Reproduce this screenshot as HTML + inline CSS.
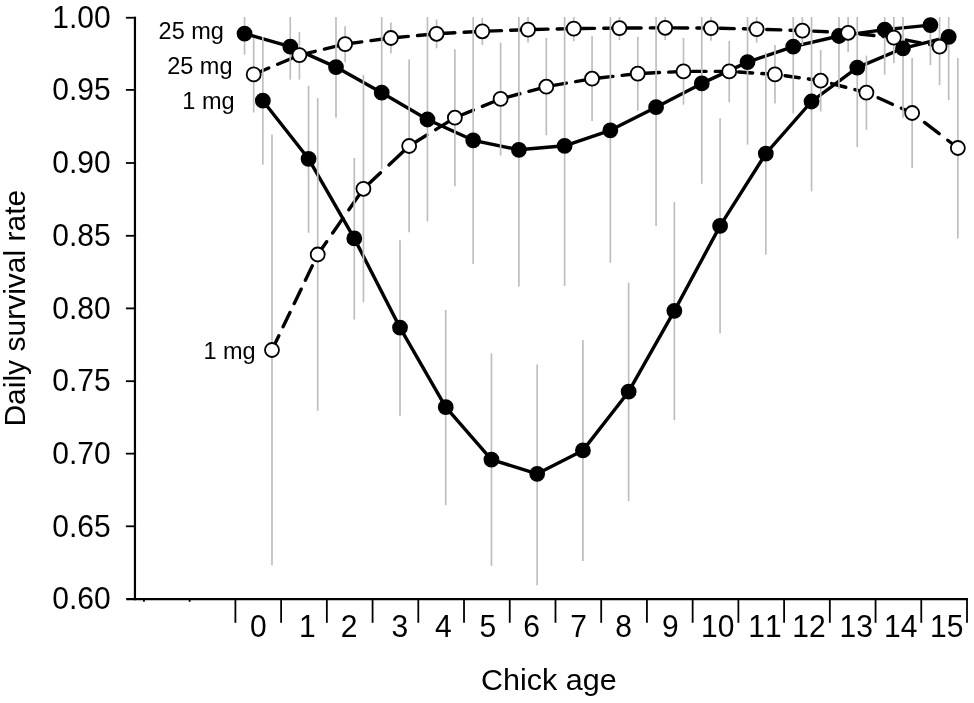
<!DOCTYPE html>
<html><head><meta charset="utf-8"><title>Daily survival rate by chick age</title>
<style>html,body{margin:0;padding:0;background:#fff}svg{display:block}text{font-family:"Liberation Sans",sans-serif;fill:#000;font-kerning:none}</style></head>
<body>
<svg width="974" height="703" viewBox="0 0 974 703">
<rect width="974" height="703" fill="#fff"/>
<g stroke="#000" stroke-width="3.40" fill="none" stroke-linecap="butt">
<polyline stroke-linejoin="round" points="244.55,33.60 290.27,46.60 336.00,67.10 381.72,92.70 427.45,119.50 473.17,140.30 518.89,149.80 564.62,145.80 610.35,130.30 656.07,107.20 701.79,83.40 747.52,62.10 793.25,46.60 838.97,36.00 884.69,29.60 930.42,25.10"/>
<line stroke-linecap="round" x1="253.69" y1="74.40" x2="299.42" y2="55.10" stroke-dasharray="15.55 9.72" stroke-dashoffset="-0.80"/>
<line stroke-linecap="round" x1="299.42" y1="55.10" x2="345.14" y2="44.10" stroke-dasharray="14.59 9.36" stroke-dashoffset="22.25"/>
<line stroke-linecap="round" x1="345.14" y1="44.10" x2="390.87" y2="38.00" stroke-dasharray="14.25 9.24" stroke-dashoffset="20.96"/>
<line stroke-linecap="round" x1="390.87" y1="38.00" x2="436.59" y2="33.80" stroke-dasharray="14.17 9.21" stroke-dashoffset="20.01"/>
<line stroke-linecap="round" x1="436.59" y1="33.80" x2="482.32" y2="31.30" stroke-dasharray="14.13 9.19" stroke-dashoffset="19.12"/>
<line stroke-linecap="round" x1="482.32" y1="31.30" x2="528.04" y2="29.60" stroke-dasharray="14.11 9.18" stroke-dashoffset="18.27"/>
<line stroke-linecap="round" x1="528.04" y1="29.60" x2="573.76" y2="28.60" stroke-dasharray="14.10 9.18" stroke-dashoffset="17.42"/>
<line stroke-linecap="round" x1="573.76" y1="28.60" x2="619.49" y2="28.10" stroke-dasharray="14.10 9.18" stroke-dashoffset="16.59"/>
<line stroke-linecap="round" x1="619.49" y1="28.10" x2="665.22" y2="27.80" stroke-dasharray="14.10 9.18" stroke-dashoffset="15.75"/>
<line stroke-linecap="round" x1="665.22" y1="27.80" x2="710.94" y2="28.10" stroke-dasharray="14.10 9.18" stroke-dashoffset="14.92"/>
<line stroke-linecap="round" x1="710.94" y1="28.10" x2="756.66" y2="29.10" stroke-dasharray="14.10 9.18" stroke-dashoffset="14.08"/>
<line stroke-linecap="round" x1="756.66" y1="29.10" x2="802.39" y2="30.60" stroke-dasharray="14.11 9.18" stroke-dashoffset="13.25"/>
<line stroke-linecap="round" x1="802.39" y1="30.60" x2="848.12" y2="32.80" stroke-dasharray="14.12 9.19" stroke-dashoffset="12.43"/>
<line stroke-linecap="round" x1="848.12" y1="32.80" x2="893.84" y2="37.60" stroke-dasharray="14.19 9.21" stroke-dashoffset="11.65"/>
<line stroke-linecap="round" x1="893.84" y1="37.60" x2="939.57" y2="46.60" stroke-dasharray="14.43 9.30" stroke-dashoffset="10.97"/>
<polyline stroke-linejoin="round" points="262.83,100.70 308.56,158.80 354.29,238.40 400.01,327.60 445.74,407.20 491.46,459.60 537.18,473.80 582.91,450.40 628.63,391.70 674.36,310.80 720.09,225.90 765.81,153.60 811.53,101.50 857.26,67.60 902.99,48.30 948.71,36.80"/>
<line stroke-linecap="round" x1="271.98" y1="350.00" x2="317.71" y2="254.50" stroke-dasharray="15.95 9.86" stroke-dashoffset="0.10"/>
<line stroke-linecap="round" x1="317.71" y1="254.50" x2="363.43" y2="188.80" stroke-dasharray="17.81 10.55" stroke-dashoffset="2.18"/>
<line stroke-linecap="round" x1="363.43" y1="188.80" x2="409.15" y2="146.00" stroke-dasharray="20.39 11.50" stroke-dashoffset="28.85"/>
<line stroke-linecap="round" x1="409.15" y1="146.00" x2="454.88" y2="117.70" stroke-dasharray="17.09 10.29" stroke-dashoffset="23.58"/>
<line stroke-linecap="round" x1="454.88" y1="117.70" x2="500.61" y2="98.90" stroke-dasharray="15.48 9.69" stroke-dashoffset="20.66"/>
<line stroke-linecap="round" x1="500.61" y1="98.90" x2="546.33" y2="86.70" stroke-dasharray="14.69 9.40" stroke-dashoffset="18.85"/>
<line stroke-linecap="round" x1="546.33" y1="86.70" x2="592.06" y2="78.70" stroke-dasharray="14.36 9.28" stroke-dashoffset="17.62"/>
<line stroke-linecap="round" x1="592.06" y1="78.70" x2="637.78" y2="73.60" stroke-dasharray="14.21 9.22" stroke-dashoffset="16.61"/>
<line stroke-linecap="round" x1="637.78" y1="73.60" x2="683.50" y2="71.40" stroke-dasharray="14.12 9.19" stroke-dashoffset="15.68"/>
<line stroke-linecap="round" x1="683.50" y1="71.40" x2="729.23" y2="71.40" stroke-dasharray="14.10 9.18" stroke-dashoffset="14.82"/>
<line stroke-linecap="round" x1="729.23" y1="71.40" x2="774.96" y2="74.40" stroke-dasharray="14.14 9.19" stroke-dashoffset="14.02"/>
<line stroke-linecap="round" x1="774.96" y1="74.40" x2="820.68" y2="80.70" stroke-dasharray="14.26 9.24" stroke-dashoffset="13.29"/>
<line stroke-linecap="round" x1="820.68" y1="80.70" x2="866.40" y2="92.60" stroke-dasharray="14.67 9.39" stroke-dashoffset="12.78"/>
<line stroke-linecap="round" x1="866.40" y1="92.60" x2="912.13" y2="113.00" stroke-dasharray="15.72 9.78" stroke-dashoffset="12.71"/>
<line stroke-linecap="round" x1="912.13" y1="113.00" x2="957.86" y2="148.00" stroke-dasharray="18.51 10.81" stroke-dashoffset="13.79"/>
</g>
<g stroke="#bebebe" stroke-width="1.7">
<line x1="244.55" y1="17.00" x2="244.55" y2="54.60"/>
<line x1="290.27" y1="17.00" x2="290.27" y2="79.70"/>
<line x1="336.00" y1="17.00" x2="336.00" y2="117.70"/>
<line x1="381.72" y1="17.00" x2="381.72" y2="168.80"/>
<line x1="427.45" y1="17.00" x2="427.45" y2="221.40"/>
<line x1="473.17" y1="17.00" x2="473.17" y2="264.00"/>
<line x1="518.89" y1="17.00" x2="518.89" y2="286.50"/>
<line x1="564.62" y1="17.00" x2="564.62" y2="286.00"/>
<line x1="610.35" y1="17.00" x2="610.35" y2="262.70"/>
<line x1="656.07" y1="17.00" x2="656.07" y2="225.90"/>
<line x1="701.79" y1="17.00" x2="701.79" y2="183.80"/>
<line x1="747.52" y1="17.00" x2="747.52" y2="144.60"/>
<line x1="793.25" y1="17.00" x2="793.25" y2="113.50"/>
<line x1="838.97" y1="17.00" x2="838.97" y2="88.90"/>
<line x1="884.69" y1="17.00" x2="884.69" y2="74.60"/>
<line x1="930.42" y1="17.00" x2="930.42" y2="65.10"/>
<line x1="253.69" y1="38.00" x2="253.69" y2="112.50"/>
<line x1="299.42" y1="32.00" x2="299.42" y2="79.70"/>
<line x1="345.14" y1="26.30" x2="345.14" y2="62.00"/>
<line x1="390.87" y1="22.50" x2="390.87" y2="53.50"/>
<line x1="436.59" y1="19.50" x2="436.59" y2="48.30"/>
<line x1="482.32" y1="18.00" x2="482.32" y2="45.00"/>
<line x1="528.04" y1="17.00" x2="528.04" y2="42.60"/>
<line x1="573.76" y1="17.00" x2="573.76" y2="41.30"/>
<line x1="619.49" y1="17.00" x2="619.49" y2="40.00"/>
<line x1="665.22" y1="17.00" x2="665.22" y2="40.00"/>
<line x1="710.94" y1="17.00" x2="710.94" y2="40.80"/>
<line x1="756.66" y1="17.00" x2="756.66" y2="42.60"/>
<line x1="802.39" y1="17.00" x2="802.39" y2="45.00"/>
<line x1="848.12" y1="17.00" x2="848.12" y2="51.90"/>
<line x1="893.84" y1="17.00" x2="893.84" y2="63.10"/>
<line x1="939.57" y1="17.00" x2="939.57" y2="85.20"/>
<line x1="262.83" y1="37.00" x2="262.83" y2="164.60"/>
<line x1="308.56" y1="85.70" x2="308.56" y2="232.70"/>
<line x1="354.29" y1="158.00" x2="354.29" y2="319.60"/>
<line x1="400.01" y1="240.20" x2="400.01" y2="415.70"/>
<line x1="445.74" y1="310.00" x2="445.74" y2="505.10"/>
<line x1="491.46" y1="353.40" x2="491.46" y2="565.70"/>
<line x1="537.18" y1="364.40" x2="537.18" y2="585.30"/>
<line x1="582.91" y1="340.10" x2="582.91" y2="561.00"/>
<line x1="628.63" y1="282.80" x2="628.63" y2="501.00"/>
<line x1="674.36" y1="201.90" x2="674.36" y2="420.20"/>
<line x1="720.09" y1="118.20" x2="720.09" y2="333.30"/>
<line x1="765.81" y1="52.60" x2="765.81" y2="254.60"/>
<line x1="811.53" y1="17.00" x2="811.53" y2="191.40"/>
<line x1="857.26" y1="17.00" x2="857.26" y2="147.00"/>
<line x1="902.99" y1="17.00" x2="902.99" y2="117.70"/>
<line x1="948.71" y1="17.00" x2="948.71" y2="100.20"/>
<line x1="271.98" y1="134.50" x2="271.98" y2="565.20"/>
<line x1="317.71" y1="98.20" x2="317.71" y2="410.70"/>
<line x1="363.43" y1="75.00" x2="363.43" y2="302.40"/>
<line x1="409.15" y1="59.40" x2="409.15" y2="232.20"/>
<line x1="454.88" y1="49.30" x2="454.88" y2="186.30"/>
<line x1="500.61" y1="42.60" x2="500.61" y2="155.60"/>
<line x1="546.33" y1="38.00" x2="546.33" y2="135.30"/>
<line x1="592.06" y1="36.30" x2="592.06" y2="121.00"/>
<line x1="637.78" y1="36.80" x2="637.78" y2="110.70"/>
<line x1="683.50" y1="38.00" x2="683.50" y2="104.70"/>
<line x1="729.23" y1="40.80" x2="729.23" y2="102.20"/>
<line x1="774.96" y1="45.00" x2="774.96" y2="103.50"/>
<line x1="820.68" y1="50.00" x2="820.68" y2="111.50"/>
<line x1="866.40" y1="55.60" x2="866.40" y2="129.80"/>
<line x1="912.13" y1="58.10" x2="912.13" y2="168.00"/>
<line x1="957.86" y1="58.10" x2="957.86" y2="238.50"/>
</g>
<g fill="#000" stroke="#000" stroke-width="1.8">
<circle cx="244.55" cy="33.60" r="7.00"/>
<circle cx="290.27" cy="46.60" r="7.00"/>
<circle cx="336.00" cy="67.10" r="7.00"/>
<circle cx="381.72" cy="92.70" r="7.00"/>
<circle cx="427.45" cy="119.50" r="7.00"/>
<circle cx="473.17" cy="140.30" r="7.00"/>
<circle cx="518.89" cy="149.80" r="7.00"/>
<circle cx="564.62" cy="145.80" r="7.00"/>
<circle cx="610.35" cy="130.30" r="7.00"/>
<circle cx="656.07" cy="107.20" r="7.00"/>
<circle cx="701.79" cy="83.40" r="7.00"/>
<circle cx="747.52" cy="62.10" r="7.00"/>
<circle cx="793.25" cy="46.60" r="7.00"/>
<circle cx="838.97" cy="36.00" r="7.00"/>
<circle cx="884.69" cy="29.60" r="7.00"/>
<circle cx="930.42" cy="25.10" r="7.00"/>
</g>
<g fill="#000" stroke="#000" stroke-width="1.8">
<circle cx="262.83" cy="100.70" r="7.00"/>
<circle cx="308.56" cy="158.80" r="7.00"/>
<circle cx="354.29" cy="238.40" r="7.00"/>
<circle cx="400.01" cy="327.60" r="7.00"/>
<circle cx="445.74" cy="407.20" r="7.00"/>
<circle cx="491.46" cy="459.60" r="7.00"/>
<circle cx="537.18" cy="473.80" r="7.00"/>
<circle cx="582.91" cy="450.40" r="7.00"/>
<circle cx="628.63" cy="391.70" r="7.00"/>
<circle cx="674.36" cy="310.80" r="7.00"/>
<circle cx="720.09" cy="225.90" r="7.00"/>
<circle cx="765.81" cy="153.60" r="7.00"/>
<circle cx="811.53" cy="101.50" r="7.00"/>
<circle cx="857.26" cy="67.60" r="7.00"/>
<circle cx="902.99" cy="48.30" r="7.00"/>
<circle cx="948.71" cy="36.80" r="7.00"/>
</g>
<g fill="#fff" stroke="#000" stroke-width="1.8">
<circle cx="253.69" cy="74.40" r="7.00"/>
<circle cx="299.42" cy="55.10" r="7.00"/>
<circle cx="345.14" cy="44.10" r="7.00"/>
<circle cx="390.87" cy="38.00" r="7.00"/>
<circle cx="436.59" cy="33.80" r="7.00"/>
<circle cx="482.32" cy="31.30" r="7.00"/>
<circle cx="528.04" cy="29.60" r="7.00"/>
<circle cx="573.76" cy="28.60" r="7.00"/>
<circle cx="619.49" cy="28.10" r="7.00"/>
<circle cx="665.22" cy="27.80" r="7.00"/>
<circle cx="710.94" cy="28.10" r="7.00"/>
<circle cx="756.66" cy="29.10" r="7.00"/>
<circle cx="802.39" cy="30.60" r="7.00"/>
<circle cx="848.12" cy="32.80" r="7.00"/>
<circle cx="893.84" cy="37.60" r="7.00"/>
<circle cx="939.57" cy="46.60" r="7.00"/>
</g>
<g fill="#fff" stroke="#000" stroke-width="1.8">
<circle cx="271.98" cy="350.00" r="7.00"/>
<circle cx="317.71" cy="254.50" r="7.00"/>
<circle cx="363.43" cy="188.80" r="7.00"/>
<circle cx="409.15" cy="146.00" r="7.00"/>
<circle cx="454.88" cy="117.70" r="7.00"/>
<circle cx="500.61" cy="98.90" r="7.00"/>
<circle cx="546.33" cy="86.70" r="7.00"/>
<circle cx="592.06" cy="78.70" r="7.00"/>
<circle cx="637.78" cy="73.60" r="7.00"/>
<circle cx="683.50" cy="71.40" r="7.00"/>
<circle cx="729.23" cy="71.40" r="7.00"/>
<circle cx="774.96" cy="74.40" r="7.00"/>
<circle cx="820.68" cy="80.70" r="7.00"/>
<circle cx="866.40" cy="92.60" r="7.00"/>
<circle cx="912.13" cy="113.00" r="7.00"/>
<circle cx="957.86" cy="148.00" r="7.00"/>
</g>
<g stroke="#000" stroke-width="2.2" fill="none">
<line x1="134.95" y1="16.85" x2="134.95" y2="600.15"/>
<line x1="126.20" y1="599.05" x2="968.00" y2="599.05"/>
</g>
<g stroke="#000" stroke-width="1.8">
<line x1="125.9" y1="17.75" x2="136.05" y2="17.75"/>
<line x1="125.9" y1="89.90" x2="136.05" y2="89.90"/>
<line x1="125.9" y1="163.00" x2="136.05" y2="163.00"/>
<line x1="125.9" y1="235.80" x2="136.05" y2="235.80"/>
<line x1="125.9" y1="308.40" x2="136.05" y2="308.40"/>
<line x1="125.9" y1="381.20" x2="136.05" y2="381.20"/>
<line x1="125.9" y1="453.65" x2="136.05" y2="453.65"/>
<line x1="125.9" y1="526.30" x2="136.05" y2="526.30"/>
</g>
<g stroke="#000" stroke-width="1.8">
<line x1="235.40" y1="599.05" x2="235.40" y2="622.8"/>
<line x1="281.12" y1="599.05" x2="281.12" y2="622.8"/>
<line x1="326.85" y1="599.05" x2="326.85" y2="622.8"/>
<line x1="372.58" y1="599.05" x2="372.58" y2="622.8"/>
<line x1="418.30" y1="599.05" x2="418.30" y2="622.8"/>
<line x1="464.02" y1="599.05" x2="464.02" y2="622.8"/>
<line x1="509.75" y1="599.05" x2="509.75" y2="622.8"/>
<line x1="555.48" y1="599.05" x2="555.48" y2="622.8"/>
<line x1="601.20" y1="599.05" x2="601.20" y2="622.8"/>
<line x1="646.93" y1="599.05" x2="646.93" y2="622.8"/>
<line x1="692.65" y1="599.05" x2="692.65" y2="622.8"/>
<line x1="738.38" y1="599.05" x2="738.38" y2="622.8"/>
<line x1="784.10" y1="599.05" x2="784.10" y2="622.8"/>
<line x1="829.83" y1="599.05" x2="829.83" y2="622.8"/>
<line x1="875.55" y1="599.05" x2="875.55" y2="622.8"/>
<line x1="921.27" y1="599.05" x2="921.27" y2="622.8"/>
<line x1="967.00" y1="599.05" x2="967.00" y2="622.8"/>
<line x1="189.68" y1="599.05" x2="189.68" y2="601.8"/>
<line x1="143.95" y1="599.05" x2="143.95" y2="601.8"/>
</g>
<g font-size="30" text-anchor="end">
<text transform="translate(110.6,27.80) scale(1,1.05)">1.00</text>
<text transform="translate(110.6,100.47) scale(1,1.05)">0.95</text>
<text transform="translate(110.6,173.15) scale(1,1.05)">0.90</text>
<text transform="translate(110.6,245.82) scale(1,1.05)">0.85</text>
<text transform="translate(110.6,318.50) scale(1,1.05)">0.80</text>
<text transform="translate(110.6,391.18) scale(1,1.05)">0.75</text>
<text transform="translate(110.6,463.85) scale(1,1.05)">0.70</text>
<text transform="translate(110.6,536.52) scale(1,1.05)">0.65</text>
<text transform="translate(110.6,609.20) scale(1,1.05)">0.60</text>
</g>
<g font-size="30" text-anchor="middle">
<text transform="translate(258.26,637.0) scale(1,1.05)">0</text>
<text transform="translate(307.39,637.0) scale(1,1.05)">1</text>
<text transform="translate(349.11,637.0) scale(1,1.05)">2</text>
<text transform="translate(399.84,637.0) scale(1,1.05)">3</text>
<text transform="translate(443.26,637.0) scale(1,1.05)">4</text>
<text transform="translate(487.79,637.0) scale(1,1.05)">5</text>
<text transform="translate(531.71,637.0) scale(1,1.05)">6</text>
<text transform="translate(578.69,637.0) scale(1,1.05)">7</text>
<text transform="translate(623.66,637.0) scale(1,1.05)">8</text>
<text transform="translate(670.29,637.0) scale(1,1.05)">9</text>
<text transform="translate(717.76,637.0) scale(1,1.05)">10</text>
<text transform="translate(764.94,637.0) scale(1,1.05)">11</text>
<text transform="translate(809.06,637.0) scale(1,1.05)">12</text>
<text transform="translate(856.14,637.0) scale(1,1.05)">13</text>
<text transform="translate(900.71,637.0) scale(1,1.05)">14</text>
<text transform="translate(946.64,637.0) scale(1,1.05)">15</text>
</g>
<text font-size="30" text-anchor="middle" transform="translate(548.9,689.6) scale(1.017,1)">Chick age</text>
<text font-size="30" text-anchor="middle" transform="translate(25.0,308.2) rotate(-90)">Daily survival rate</text>
<g font-size="23.5" text-anchor="end">
<text x="223.9" y="38.7">25 mg</text>
<text x="232.5" y="74.3">25 mg</text>
<text x="234.6" y="109.0">1 mg</text>
<text x="255.7" y="358.7">1 mg</text>
</g>
</svg></body></html>
